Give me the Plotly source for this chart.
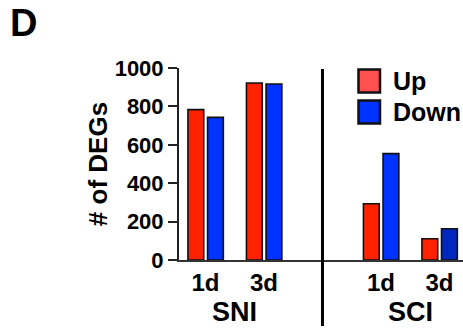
import plotly.graph_objects as go

# data
positions = [0, 1, 3, 4]
time_labels = ["1d", "3d", "1d", "3d"]
group_labels = ["SNI", "SCI"]
group_centers = [0.5, 3.5]
up_values = [783, 922, 293, 111]
down_values = [743, 917, 554, 163]
y_ticks = [0, 200, 400, 600, 800, 1000]

FONT = "Liberation Sans, Arial, Helvetica, sans-serif"
UP_COLOR = "#FF2200"
DOWN_COLORS = ["#0033FF", "#0033FF", "#0033FF", "#0028C0"]

W, H = 463, 330
PL, PR, PT, PB = 179, 463, 68, 260  # plot area in pixels
PW, PH = PR - PL, PB - PT


def px(x):
    return (x - PL) / PW


def py(y):
    return (PB - y) / PH


fig = go.Figure()
fig.add_trace(go.Bar(
    x=positions, y=up_values, name="Up",
    offset=-0.30, width=0.27,
    marker=dict(color=UP_COLOR, line=dict(color="#111111", width=1.6)),
    showlegend=False,
))
fig.add_trace(go.Bar(
    x=positions, y=down_values, name="Down",
    offset=0.035, width=0.27,
    marker=dict(color=DOWN_COLORS, line=dict(color="#111111", width=1.6)),
    showlegend=False,
))

fig.update_layout(
    width=W, height=H,
    margin=dict(l=PL, r=W - PR, t=PT, b=H - PB, pad=0, autoexpand=False),
    paper_bgcolor="white", plot_bgcolor="white",
    barmode="overlay",
    font=dict(family=FONT, color="black"),
    xaxis=dict(
        range=[-0.453, 4.402], tickmode="array", tickvals=positions,
        ticktext=[f"<b>{t}</b>" for t in time_labels],
        showline=True, linecolor="#333333", linewidth=1.5, ticks="", showgrid=False,
        zeroline=False, tickfont=dict(size=24, family=FONT, color="black"),
        automargin=False,
    ),
    yaxis=dict(
        range=[0, 1000], tickmode="array", tickvals=y_ticks,
        ticktext=[f"<b>{v}</b>" for v in y_ticks],
        showline=True, linecolor="#222222", linewidth=2, ticks="outside", ticklen=9,
        tickwidth=2, tickcolor="#222222", showgrid=False, zeroline=False,
        tickfont=dict(size=22, family=FONT, color="black"),
        title=dict(text="<b># of DEGs</b>", font=dict(size=26, family=FONT, color="black"), standoff=0),
        automargin=False,
    ),
)

# group labels
for name, cx in zip(group_labels, group_centers):
    fig.add_annotation(x=cx, xref="x", y=py(312), yref="paper", text=f"<b>{name}</b>",
                       showarrow=False, font=dict(size=27, family=FONT, color="black"),
                       xanchor="center", yanchor="middle")

# divider line between groups
fig.add_shape(type="line", x0=2, x1=2, xref="x", y0=py(69), y1=py(326), yref="paper",
              line=dict(color="black", width=3))

# panel letter
fig.add_annotation(x=px(8), xref="paper", y=py(23), yref="paper", text="<b>D</b>",
                   showarrow=False, font=dict(size=38, family=FONT, color="black"),
                   xanchor="left", yanchor="middle")

# custom legend
legend_items = [("Up", "#FF5050", 81), ("Down", "#0033FF", 112)]
for label, col, yc in legend_items:
    fig.add_shape(type="rect", xref="paper", yref="paper",
                  x0=px(358.5), x1=px(380), y0=py(yc - 11.5), y1=py(yc + 11.5),
                  fillcolor=col, line=dict(color="#111111", width=2.5), layer="above")
    fig.add_annotation(x=px(391), xref="paper", y=py(yc), yref="paper",
                       text=f"<b>{label}</b>", showarrow=False,
                       font=dict(size=25, family=FONT, color="black"),
                       xanchor="left", yanchor="middle")

fig.write_html("out.html", config={"displayModeBar": False},
               post_script="document.body.style.margin='0';")
